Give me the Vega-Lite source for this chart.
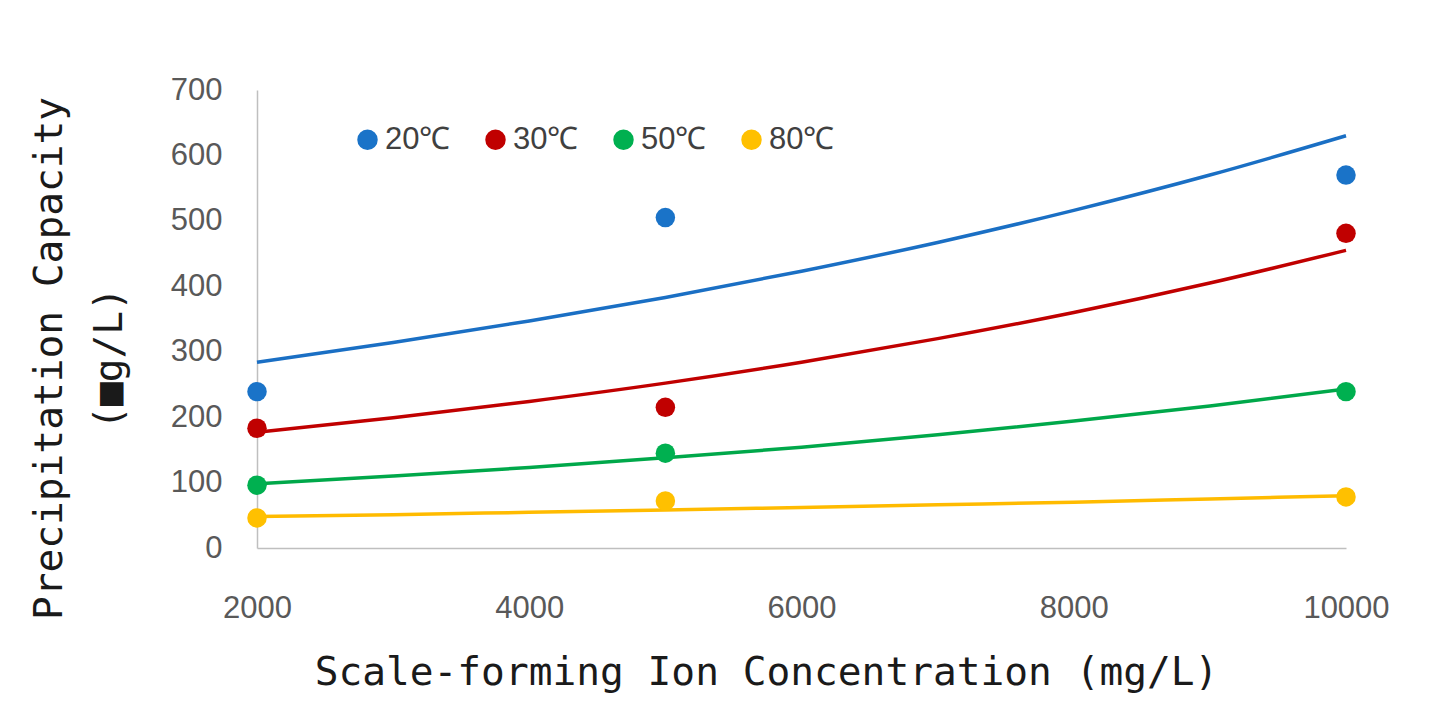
{
  "$schema": "https://vega.github.io/schema/vega-lite/v6.json",
  "width": 1089,
  "height": 458,
  "autosize": "none",
  "padding": {"left": 257, "top": 90, "right": 103, "bottom": 171},
  "background": "white",
  "config": {
    "view": {"stroke": null},
    "axis": {
      "grid": false,
      "ticks": false,
      "tickSize": 0,
      "domainColor": "#bfbfbf",
      "domainWidth": 1.5,
      "labelFont": "Liberation Sans",
      "labelFontSize": 31,
      "labelColor": "#595959",
      "labelFlush": false,
      "titleFont": "DejaVu Sans Mono",
      "titleFontSize": 39.5,
      "titleFontWeight": "normal",
      "titleColor": "#1a1a1a"
    }
  },
  "datasets": {
    "points": [
      {"temp": "20℃", "conc": 2000, "cap": 239},
      {"temp": "20℃", "conc": 5000, "cap": 505},
      {"temp": "20℃", "conc": 10000, "cap": 570},
      {"temp": "30℃", "conc": 2000, "cap": 183},
      {"temp": "30℃", "conc": 5000, "cap": 215},
      {"temp": "30℃", "conc": 10000, "cap": 481},
      {"temp": "50℃", "conc": 2000, "cap": 96},
      {"temp": "50℃", "conc": 5000, "cap": 145},
      {"temp": "50℃", "conc": 10000, "cap": 239},
      {"temp": "80℃", "conc": 2000, "cap": 46},
      {"temp": "80℃", "conc": 5000, "cap": 72},
      {"temp": "80℃", "conc": 10000, "cap": 78}
    ],
    "trend": [
      {"temp": "20℃", "conc": 2000, "cap": 284},
      {"temp": "20℃", "conc": 3000, "cap": 314},
      {"temp": "20℃", "conc": 4000, "cap": 347},
      {"temp": "20℃", "conc": 5000, "cap": 383},
      {"temp": "20℃", "conc": 6000, "cap": 423},
      {"temp": "20℃", "conc": 7000, "cap": 467},
      {"temp": "20℃", "conc": 8000, "cap": 516},
      {"temp": "20℃", "conc": 9000, "cap": 570},
      {"temp": "20℃", "conc": 10000, "cap": 630},
      {"temp": "30℃", "conc": 2000, "cap": 177},
      {"temp": "30℃", "conc": 3000, "cap": 199},
      {"temp": "30℃", "conc": 4000, "cap": 224},
      {"temp": "30℃", "conc": 5000, "cap": 252},
      {"temp": "30℃", "conc": 6000, "cap": 284},
      {"temp": "30℃", "conc": 7000, "cap": 320},
      {"temp": "30℃", "conc": 8000, "cap": 360},
      {"temp": "30℃", "conc": 9000, "cap": 405},
      {"temp": "30℃", "conc": 10000, "cap": 455},
      {"temp": "50℃", "conc": 2000, "cap": 98},
      {"temp": "50℃", "conc": 3000, "cap": 110},
      {"temp": "50℃", "conc": 4000, "cap": 123},
      {"temp": "50℃", "conc": 5000, "cap": 138},
      {"temp": "50℃", "conc": 6000, "cap": 154},
      {"temp": "50℃", "conc": 7000, "cap": 173},
      {"temp": "50℃", "conc": 8000, "cap": 194},
      {"temp": "50℃", "conc": 9000, "cap": 217},
      {"temp": "50℃", "conc": 10000, "cap": 243},
      {"temp": "80℃", "conc": 2000, "cap": 48},
      {"temp": "80℃", "conc": 3000, "cap": 51},
      {"temp": "80℃", "conc": 4000, "cap": 54.5},
      {"temp": "80℃", "conc": 5000, "cap": 58},
      {"temp": "80℃", "conc": 6000, "cap": 62},
      {"temp": "80℃", "conc": 7000, "cap": 66},
      {"temp": "80℃", "conc": 8000, "cap": 70},
      {"temp": "80℃", "conc": 9000, "cap": 75},
      {"temp": "80℃", "conc": 10000, "cap": 80}
    ]
  },
  "resolve": {"scale": {"color": "independent"}, "legend": {"color": "independent"}},
  "layer": [
    {
      "data": {"name": "trend"},
      "mark": {"type": "line", "strokeWidth": 3.5, "interpolate": "monotone"},
      "encoding": {
        "x": {
          "field": "conc",
          "type": "quantitative",
          "scale": {"domain": [2000, 10000], "nice": false, "zero": false},
          "axis": {
            "values": [2000, 4000, 6000, 8000, 10000],
            "format": "d",
            "labelPadding": 45,
            "title": "Scale-forming Ion Concentration (mg/L)",
            "titleX": 509,
            "titleY": 124,
            "titleAlign": "center",
            "titleBaseline": "middle"
          }
        },
        "y": {
          "field": "cap",
          "type": "quantitative",
          "scale": {"domain": [0, 700], "nice": false},
          "axis": {
            "values": [0, 100, 200, 300, 400, 500, 600, 700],
            "labelPadding": 35,
            "title": ["Precipitation Capacity", "(■g/L)"],
            "titleAngle": -90,
            "titleX": -208,
            "titleY": 268,
            "titleAlign": "center",
            "titleBaseline": "middle",
            "titleLineHeight": 60
          }
        },
        "color": {
          "field": "temp",
          "type": "nominal",
          "scale": {"domain": ["20℃", "30℃", "50℃", "80℃"], "range": ["#1a6fc4", "#c00000", "#00a84a", "#ffbb00"]},
          "legend": null
        }
      }
    },
    {
      "data": {"name": "points"},
      "mark": {"type": "point", "filled": true, "size": 380, "opacity": 1},
      "encoding": {
        "x": {"field": "conc", "type": "quantitative"},
        "y": {"field": "cap", "type": "quantitative"},
        "color": {
          "field": "temp",
          "type": "nominal",
          "scale": {"domain": ["20℃", "30℃", "50℃", "80℃"], "range": ["#1a73c8", "#c00000", "#00b050", "#ffc000"]},
          "legend": {
            "orient": "none",
            "legendX": 95,
            "legendY": 34,
            "direction": "horizontal",
            "title": null,
            "symbolType": "circle",
            "symbolSize": 420,
            "labelFont": "Liberation Sans",
            "labelFontSize": 31,
            "labelColor": "#404040",
            "labelOffset": 2,
            "columnPadding": 29,
            "padding": 0
          }
        }
      }
    }
  ]
}
